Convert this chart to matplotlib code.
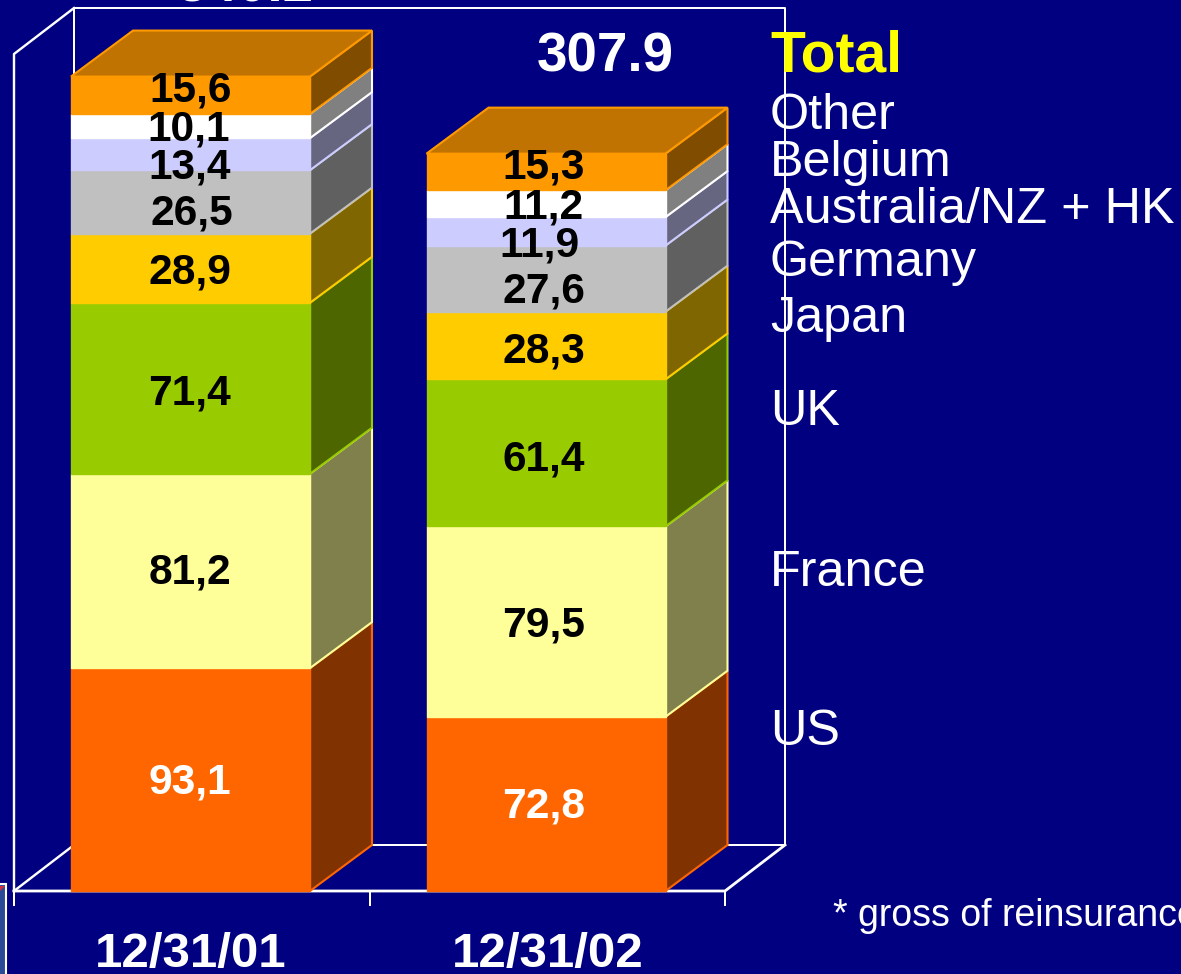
import numpy as np
import matplotlib
matplotlib.use('Agg')
from matplotlib import pyplot as plt
from matplotlib.patches import Polygon, Rectangle
from matplotlib.transforms import Affine2D

plt.rcParams['font.family'] = ['Liberation Sans', 'DejaVu Sans']

# data, bottom of the stack first
dates = ['12/31/01', '12/31/02']
countries = ['US', 'France', 'UK', 'Japan', 'Germany', 'Australia/NZ + HK', 'Belgium', 'Other']
values_01 = [93.1, 81.2, 71.4, 28.9, 26.5, 13.4, 10.1, 15.6]
values_02 = [72.8, 79.5, 61.4, 28.3, 27.6, 11.9, 11.2, 15.3]
totals = ['340.2', '307.9']

# colours
bg = '#000080'
front = ['#FF6600', '#FFFF99', '#99CC00', '#FFCC00', '#C0C0C0', '#CCCCFF', '#FFFFFF', '#FF9900']
side = ['#803300', '#80804D', '#4D6600', '#806600', '#606060', '#666680', '#808080', '#804D00']
top_col = '#C07300'

# layout in image pixels (y going down)
W, H = 1181, 974
X0, X_STEP = 190.5, 355.5
Y0, Y_STEP = 891, 2.394
DX, DY = 62 / X_STEP, 46 / Y_STEP
BAR_W = 239 / X_STEP
value_y = [[782.5, 572.5, 393.5, 272.5, 213.5, 167.5, 129.5, 90.5],
           [806.5, 625.5, 459.5, 351.5, 291.5, 245.5, 207.5, 167.5]]
value_x = [[190, 190, 190, 190, 192, 190, 189, 191],
           [544, 544, 544, 544, 544, 539, 544, 544]]
legend_y = [732, 573, 412, 319, 263, 210, 163, 116]

fig = plt.figure(figsize=(W / 100, H / 100), dpi=100, facecolor=bg)
ax = fig.add_axes([0, 0, 1, 1])
ax.set_xlim(-X0 / X_STEP, (W - X0) / X_STEP)
ax.set_ylim(-(H - Y0) / Y_STEP, Y0 / Y_STEP)
ax.axis('off')
px = Affine2D().scale(1, -1).translate(0, H)


def wall(xs, ys, lw=2.0):
    ax.plot(xs, ys, color='white', lw=lw * 0.72, transform=px, zorder=1, solid_capstyle='projecting')


# back wall, side wall, floor and ticks
wall([74, 785, 785, 74, 74], [8, 8, 845, 845, 8], 2.0)
wall([74, 14, 14], [8, 54, 891], 2.4)
wall([14, 74], [891, 845], 2.4)
wall([14, 725, 785], [891, 891, 845], 2.8)
for tx in [14, 370, 725]:
    wall([tx, tx], [891, 905], 2.0)

# stacked bars with a fake 3D depth
for i, vals in enumerate([values_01, values_02]):
    bottoms = np.concatenate(([0], np.cumsum(vals)[:-1]))
    left = i - BAR_W / 2
    right = i + BAR_W / 2
    ax.bar(i, vals, bottom=bottoms, width=BAR_W, color=front, edgecolor=front, linewidth=1, zorder=3)
    for k in range(len(vals)):
        b = bottoms[k]
        t = b + vals[k]
        ax.add_patch(Polygon([(right, b), (right + DX, b + DY), (right + DX, t + DY), (right, t)],
                             facecolor=side[k], edgecolor=front[k], lw=1.5, zorder=2 + k * 0.01))
    t = bottoms[-1] + vals[-1]
    ax.add_patch(Polygon([(left, t), (left + DX, t + DY), (right + DX, t + DY), (right, t)],
                         facecolor=top_col, edgecolor=front[-1], lw=1.5, zorder=2.5))
    for k, v in enumerate(vals):
        ax.text(value_x[i][k], value_y[i][k], f'{v:.1f}'.replace('.', ','), transform=px,
                ha='center', va='center', fontsize=30.6, fontweight='bold',
                color='white' if k == 0 else 'black', zorder=5)

# totals, the first one is cut by the top of the picture
ax.text(245, 1, totals[0], transform=px, ha='center', va='baseline', fontsize=39.4, fontweight='bold',
        color='white', zorder=5)
ax.text(605, 71, totals[1], transform=px, ha='center', va='baseline', fontsize=39.4, fontweight='bold',
        color='white', zorder=5)

# category labels
ax.text(191, 967, dates[0], transform=px, ha='center', va='baseline', fontsize=35.5, fontweight='bold', color='white')
ax.text(548, 967, dates[1], transform=px, ha='center', va='baseline', fontsize=35.5, fontweight='bold', color='white')

# country names on the right
for name, y in zip(countries, legend_y):
    ax.text(770, y, name, transform=px, ha='left', va='center', fontsize=36.3, color='white', zorder=5)
ax.text(770, 56, 'Total', transform=px, ha='left', va='center', fontsize=41, fontweight='bold',
        color='#FFFF00', zorder=5)

ax.text(833, 926, '* gross of reinsurance', transform=px, ha='left', va='baseline', fontsize=27, color='white')

# corner of a logo at the bottom left
ax.add_patch(Rectangle((-2, 884), 8, 95, transform=px, facecolor='#2B4A96', edgecolor='white', lw=1.5, zorder=4))
ax.add_patch(Polygon([(0, 886), (5, 886), (0, 891)], transform=px, facecolor='#D03040', edgecolor='none', zorder=5))

fig.savefig('out.png', dpi=100, facecolor=bg)
